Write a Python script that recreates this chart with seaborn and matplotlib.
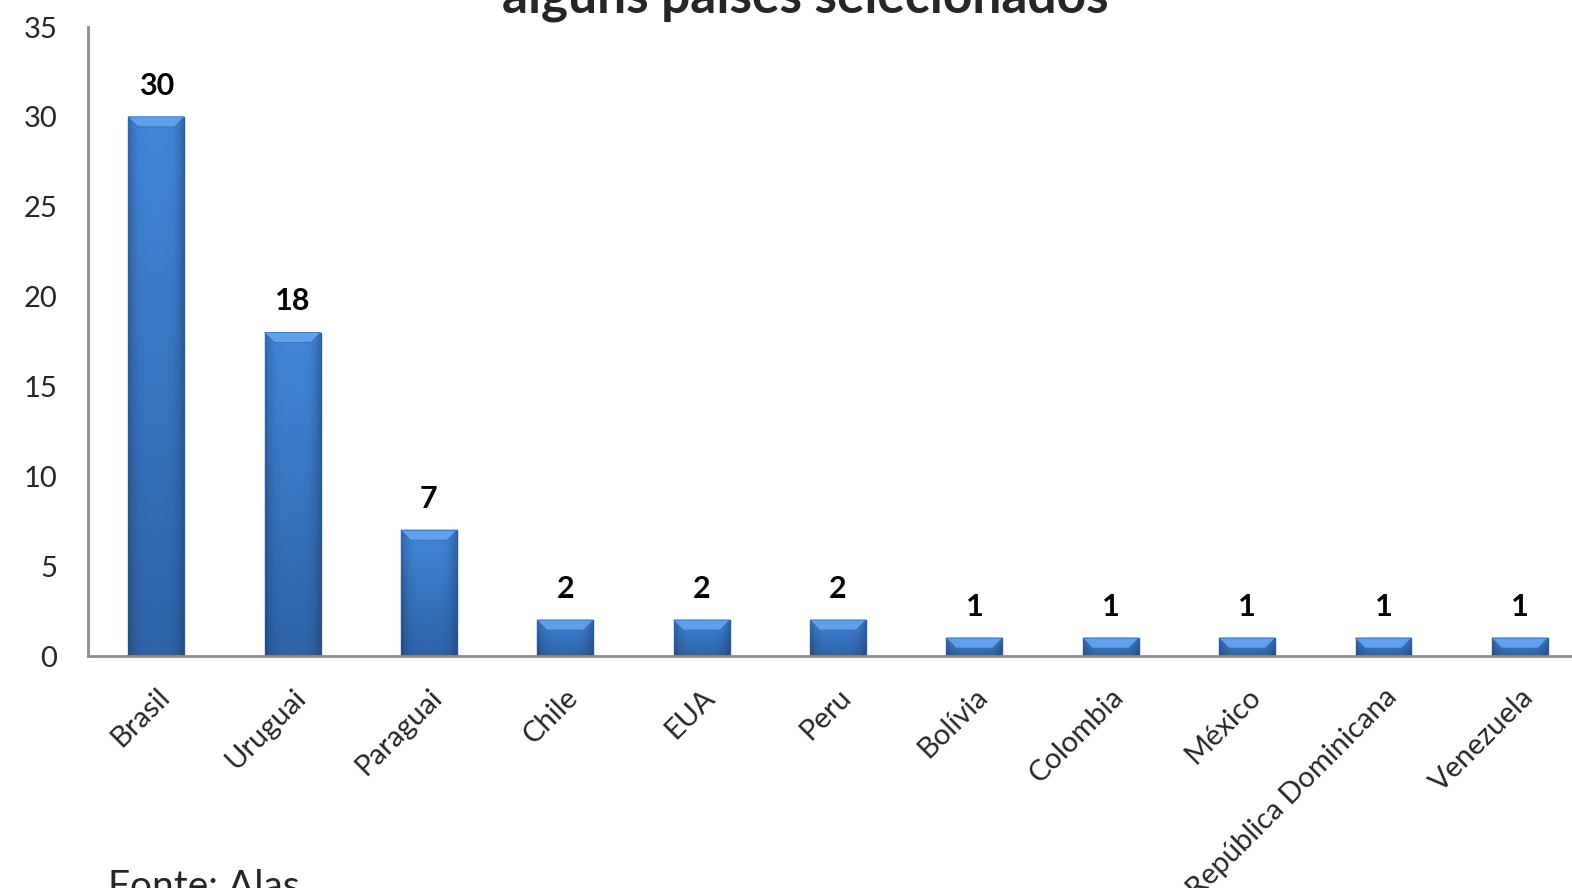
import matplotlib
matplotlib.use("Agg")
import matplotlib.pyplot as plt
from matplotlib.patches import Polygon
from matplotlib.colors import to_rgb
import numpy as np
import seaborn as sns
import pandas as pd

# Dados do gráfico
paises = ["Brasil", "Uruguai", "Paraguai", "Chile", "EUA", "Peru", "Bolívia",
          "Colombia", "México", "República Dominicana", "Venezuela"]
valores = [30, 18, 7, 2, 2, 2, 1, 1, 1, 1, 1]
titulo_visivel = "alguns países selecionados"
fonte = "Fonte: Alas"

df = pd.DataFrame({"pais": paises, "valor": valores})

sns.set_style("white")
plt.rcParams["font.family"] = ["Lato", "DejaVu Sans"]

fig = plt.figure(figsize=(15.72, 8.88), dpi=100)
# eixo propositalmente mais largo que a figura (o original está recortado)
ax = fig.add_axes([88 / 1572, 232 / 888, 1500 / 1572, 629 / 888])

sns.barplot(data=df, x="pais", y="valor", color="#3A7BD0", width=0.41,
            edgecolor="#2A5A9C", linewidth=1.0, saturation=1, ax=ax)

# gradiente e bisel no topo de cada barra (estilo Excel)
topo = np.array(to_rgb("#4186DA"))
base = np.array(to_rgb("#2F63A8"))
px_y = 35 / 629
for p in list(ax.patches):
    x0, w, h = p.get_x(), p.get_width(), p.get_height()
    t = np.linspace(0, 1, 60)[:, None, None]
    lado = np.abs(np.linspace(-1, 1, 30))[None, :, None] ** 4
    img = (topo * (1 - t) + base * t) * (1 - 0.22 * lado)
    im = ax.imshow(img, extent=(x0, x0 + w, 0, h), aspect="auto", zorder=2,
                   interpolation="bilinear")
    im.set_clip_path(p)
    dx = w * 0.17
    dy = 10 * px_y
    cap = Polygon([(x0, h), (x0 + w, h), (x0 + w - dx, h - dy), (x0 + dx, h - dy)],
                  closed=True, facecolor="#62A0EA", edgecolor="#3570B8", linewidth=0.6,
                  zorder=3)
    ax.add_patch(cap)
    ax.text(x0 + w / 2, h + 0.95, f"{h:.0f}", ha="center", va="bottom",
            fontsize=22, fontweight="bold", color="black")

ax.set_xlim(-0.5, len(paises) - 0.5)
ax.set_ylim(0, 35)
ax.set_yticks(range(0, 36, 5))
ax.set_xlabel("")
ax.set_ylabel("")
ax.tick_params(axis="y", labelsize=21, length=0, pad=22)
ax.tick_params(axis="x", labelsize=21, length=0, pad=20)
plt.setp(ax.get_xticklabels(), rotation=45, ha="right", rotation_mode="anchor")

for s in ["top", "right"]:
    ax.spines[s].set_visible(False)
for s in ["left", "bottom"]:
    ax.spines[s].set_color("#8C8C8C")
    ax.spines[s].set_linewidth(2)
    ax.spines[s].set_zorder(4)

fig.text(805 / 1572, 1 - 12 / 888, titulo_visivel, ha="center", va="baseline",
         fontsize=37, fontweight="bold")
fig.text(108 / 1572, 1 - 898 / 888, fonte, ha="left", va="baseline", fontsize=28)

fig.savefig("out.png", dpi=100)
